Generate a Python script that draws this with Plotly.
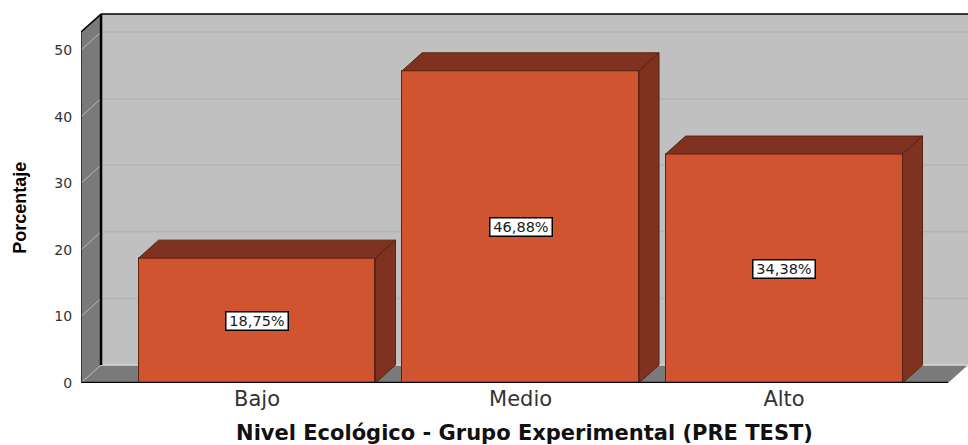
import plotly.graph_objects as go

# Chart data
categories = ["Bajo", "Medio", "Alto"]
percentages = [18.75, 46.88, 34.38]
value_labels = ["18,75%", "46,88%", "34,38%"]
y_ticks = [0, 10, 20, 30, 40, 50]
x_title = "Nivel Ecológico - Grupo Experimental (PRE TEST)"
y_title = "Porcentaje"

# Extent of the box and the oblique depth, in axis units
X_MIN, X_MAX = -0.668, 2.698
Y_TOP = 55.56
WALL_TOP = 52.7
DEPTH_X, DEPTH_Y = 0.076, 2.7
BAR_WIDTH = 0.899

FRONT = "#d05430"
SHADE = "#7f3220"
EDGE = "#5a2412"
WALL = "#c0c0c0"
SIDE = "#7a7a7a"
GRID = "#b4b4b4"
FLOOR_RIGHT = X_MAX - DEPTH_X


def poly(points, fill, line=None, width=0):
    path = "M " + " L ".join(f"{x},{y}" for x, y in points) + " Z"
    return dict(type="path", path=path, xref="x", yref="y", layer="between",
                fillcolor=fill, line=dict(color=line or fill, width=width))


def seg(x0, y0, x1, y1, color, width):
    return dict(type="line", x0=x0, y0=y0, x1=x1, y1=y1, xref="x", yref="y",
                layer="between", line=dict(color=color, width=width))


back_x = X_MIN + DEPTH_X
shapes = [
    # back wall, left wall and floor
    poly([(back_x, DEPTH_Y), (X_MAX, DEPTH_Y), (X_MAX, WALL_TOP + DEPTH_Y), (back_x, WALL_TOP + DEPTH_Y)], WALL),
    poly([(X_MIN, 0), (back_x, DEPTH_Y), (back_x, WALL_TOP + DEPTH_Y), (X_MIN, WALL_TOP)], SIDE),
    poly([(X_MIN, 0), (FLOOR_RIGHT, 0), (X_MAX, DEPTH_Y), (back_x, DEPTH_Y)], SIDE),
]
# gridlines run across the left wall and then along the back wall
for t in y_ticks[1:]:
    shapes.append(seg(X_MIN, t, back_x, t + DEPTH_Y, "#b8b8b8", 1))
    shapes.append(seg(back_x, t + DEPTH_Y, X_MAX, t + DEPTH_Y, GRID, 1.5))
shapes += [
    seg(back_x, DEPTH_Y, X_MAX, DEPTH_Y, "#d8d8d8", 1.5),
    seg(X_MIN, 0, back_x, DEPTH_Y, "#b8b8b8", 1),
    seg(back_x, DEPTH_Y, back_x, WALL_TOP + DEPTH_Y, "#000000", 2.5),
    seg(X_MIN, 0, X_MIN, WALL_TOP, "#222222", 1.5),
    seg(X_MIN, WALL_TOP, back_x, WALL_TOP + DEPTH_Y, "#000000", 1.5),
    seg(back_x, WALL_TOP + DEPTH_Y, X_MAX, WALL_TOP + DEPTH_Y, "#000000", 1.5),
]

positions = list(range(len(categories)))
fig = go.Figure()

# Front faces of the bars
fig.add_trace(go.Bar(
    x=positions, y=percentages, width=BAR_WIDTH,
    marker=dict(color=FRONT, line=dict(color=EDGE, width=1)),
    hoverinfo="skip", showlegend=False,
))

# Top and side faces of the bars, offset by the depth
for pos, value in zip(positions, percentages):
    x0, x1 = pos - BAR_WIDTH / 2, pos + BAR_WIDTH / 2
    top_x = [x0, x1, x1 + DEPTH_X, x0 + DEPTH_X, x0]
    top_y = [value, value, value + DEPTH_Y, value + DEPTH_Y, value]
    side_x = [x1, x1 + DEPTH_X, x1 + DEPTH_X, x1, x1]
    side_y = [0, DEPTH_Y, value + DEPTH_Y, value, 0]
    for xs, ys in ((top_x, top_y), (side_x, side_y)):
        fig.add_trace(go.Scatter(
            x=xs, y=ys, mode="lines", fill="toself", fillcolor=SHADE,
            line=dict(color=EDGE, width=1), hoverinfo="skip", showlegend=False,
        ))

# Heavy baseline along the front of the floor
fig.add_trace(go.Scatter(
    x=[X_MIN, FLOOR_RIGHT], y=[0, 0], mode="lines",
    line=dict(color="#000000", width=2.5), hoverinfo="skip", showlegend=False,
    cliponaxis=False,
))

annotations = [
    dict(x=pos, y=value / 2, xref="x", yref="y", text=label, showarrow=False,
         font=dict(family="DejaVu Sans", size=14.5, color="#1a1a1a"),
         bgcolor="#ffffff", bordercolor="#000000", borderwidth=1.5, borderpad=1,
         width=59, height=15)
    for pos, value, label in zip(positions, percentages, value_labels)
]
# Vertical axis caption, centred lower than the axis midpoint
annotations.append(dict(
    x=-61 / 887, y=26.3, xref="paper", yref="y", text=f"<b>{y_title}</b>",
    textangle=-90, showarrow=False, xanchor="center", yanchor="middle",
    font=dict(family="Liberation Sans", size=18, color="#000000"),
))

fig.update_layout(
    width=968, height=445,
    margin=dict(l=81, r=0, t=13, b=62),
    paper_bgcolor="#ffffff", plot_bgcolor="#ffffff",
    shapes=shapes, annotations=annotations,
    bargap=0, showlegend=False,
    xaxis=dict(
        range=[X_MIN, X_MAX], tickmode="array", tickvals=positions, ticktext=categories,
        showgrid=False, zeroline=False, showline=False,
        ticks="", ticklen=0, ticklabelstandoff=1,
        tickfont=dict(family="DejaVu Sans", size=21, color="#333333"),
        title=dict(text=f"<b>{x_title}</b>", standoff=20,
                   font=dict(family="DejaVu Sans", size=21, color="#111111")),
    ),
    yaxis=dict(
        range=[0, Y_TOP], tickmode="array", tickvals=y_ticks,
        showgrid=False, zeroline=False, showline=False,
        ticks="outside", ticklen=5, tickcolor="rgba(0,0,0,0)",
        tickfont=dict(family="DejaVu Sans", size=14, color="#333333"),
    ),
)

fig.write_html("out.html", config={"displayModeBar": False})
